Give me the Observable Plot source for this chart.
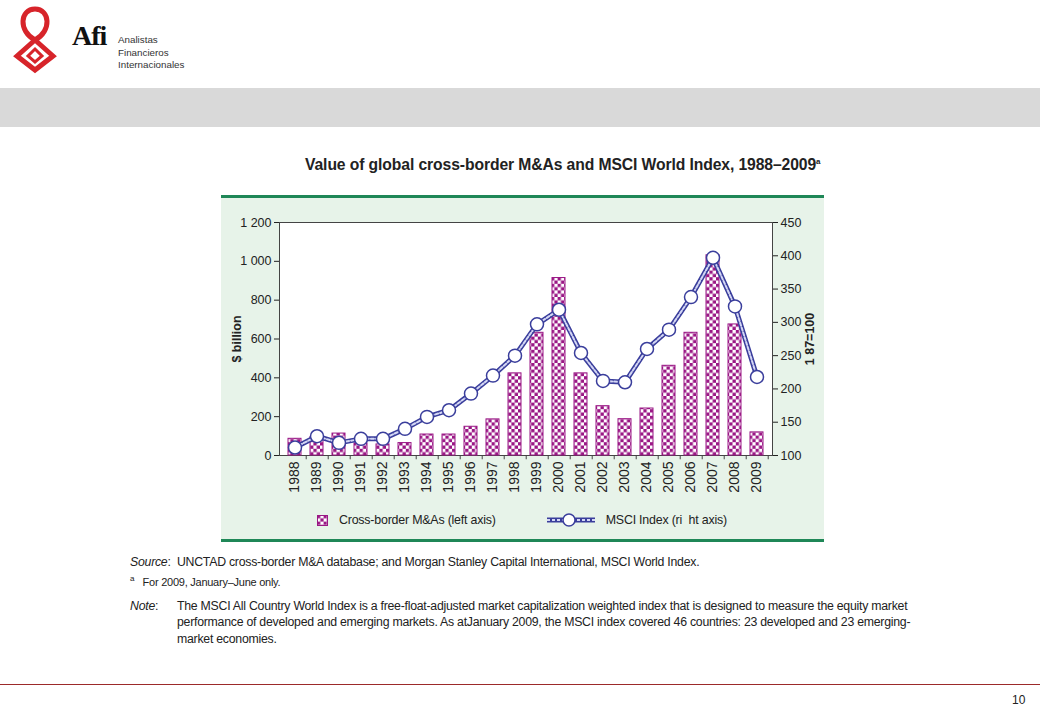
<!DOCTYPE html>
<html><head><meta charset="utf-8">
<script src="https://cdn.jsdelivr.net/npm/d3@7"></script>
<script src="https://cdn.jsdelivr.net/npm/@observablehq/plot@0.6"></script>
<style>
body{margin:0;width:1040px;height:720px;position:relative;background:#fff;font-family:"Liberation Sans",Arial,sans-serif;overflow:hidden;color:#222}
.abs{position:absolute}
#box{position:absolute;left:221px;top:195px;width:603px;height:341px;background:#e7f3e9;border-top:3px solid #1f8757;border-bottom:3px solid #1f8757}
#chart svg g[aria-label="y-axis label"] text{font-weight:bold;font-size:12.5px}
.src{font-size:12.3px;line-height:16.5px;letter-spacing:-0.25px}
</style></head><body>
<script>
// ---- data ----
const years = [1988,1989,1990,1991,1992,1993,1994,1995,1996,1997,1998,1999,2000,2001,2002,2003,2004,2005,2006,2007,2008,2009];
const mna   = [86,95,113,62,57,64,108,108,148,186,423,632,914,423,254,187,242,462,632,1031,675,119];
const msci  = [112,129,119,125,125,140,158,168,193,220,250,297,319,254,212,210,260,289,338,397,324,218];
const leftTicks  = [0,200,400,600,800,1000,1200];
const rightTicks = [100,150,200,250,300,350,400,450];
const title = "Value of global cross-border M&As and MSCI World Index, 1988–2009";
</script>

<!-- logo -->
<svg class="abs" style="left:8px;top:4px" width="60" height="70" viewBox="0 0 60 70">
  <g fill="none" stroke="#d7242a" stroke-width="5" stroke-linejoin="miter">
    <path d="M27,36 C10,27 12,5 27,5 C42,5 44,27 27,36"/>
    <path d="M27,36 L45,52 L27,66 L9,52 Z"/>
    <path d="M27,45 L34,52 L27,58 L20,52 Z" stroke-width="3"/>
  </g>
</svg>
<div class="abs" style="left:72px;top:20px;font-family:'Liberation Serif',serif;font-weight:bold;font-size:28px;color:#111;letter-spacing:-1px">Afi</div>
<div class="abs" style="left:118px;top:34px;font-size:9.8px;line-height:12.5px;color:#333">Analistas<br>Financieros<br>Internacionales</div>
<div class="abs" style="left:0;top:88px;width:1040px;height:39px;background:#d9d9d9"></div>

<div class="abs" id="title" style="left:305px;top:156px;font-weight:bold;font-size:15.7px;letter-spacing:-0.1px;color:#222;white-space:nowrap"></div>

<div id="box">
  <div id="chart" class="abs" style="left:0;top:0"></div>
  <div class="abs" style="left:96px;top:315px;display:flex;align-items:center;font-size:12.4px;letter-spacing:-0.2px;color:#222;white-space:nowrap">
    <svg width="11" height="11"><rect x="0.5" y="0.5" width="10" height="10" fill="url(#chk)" stroke="#9a1785"/></svg>
    <span style="margin-left:11px">Cross-border M&amp;As (left axis)</span>
    <svg style="margin-left:50px" width="50" height="14"><line x1="1" y1="7" x2="49" y2="7" stroke="#3a3e9c" stroke-width="5"/><line x1="1" y1="7" x2="49" y2="7" stroke="#d4d7f5" stroke-width="2" stroke-dasharray="3,2"/><circle cx="23" cy="7" r="6" fill="white" stroke="#3a3e9c" stroke-width="1.5"/></svg>
    <span style="margin-left:10px">MSCI Index (ri&nbsp;&nbsp;ht axis)</span>
  </div>
</div>

<div class="abs src" style="left:130px;top:554px;width:820px">
  <div><i>Source</i>:&nbsp;&nbsp;UNCTAD cross-border M&amp;A database; and Morgan Stanley Capital International, MSCI World Index.</div>
  <div style="font-size:11px;margin-top:0px"><sup style="font-size:8px">a</sup>&nbsp;&nbsp; For 2009, January–June only.</div>
  <div style="display:flex;margin-top:8px"><span style="width:47px;flex:none"><i>Note</i>:</span><div>The MSCI All Country World Index is a free-float-adjusted market capitalization weighted index that is designed to measure the equity market<br>performance of developed and emerging markets. As atJanuary 2009, the MSCI index covered 46 countries: 23 developed and 23 emerging-<br>market economies.</div></div>
</div>

<div class="abs" style="left:0;top:684px;width:1040px;height:1px;background:#9c2a2a"></div>
<div class="abs" style="left:1012px;top:693px;font-size:12px;color:#222">10</div>

<script>
document.getElementById("title").innerHTML = title.replace("&","&amp;") + '<sup style="font-size:8px">a</sup>';
const data = years.map((y,i)=>({year:y, mna:mna[i], msci:msci[i]}));
const toLeft = v => (v-100)*1200/350;
const fmt = d => d >= 1000 ? String(d).replace(/(\d)(\d{3})$/,"$1 $2") : String(d);
const step = 493/22;
const chart = Plot.plot({
  width:603, height:314, marginLeft:58, marginRight:52, marginTop:24, marginBottom:57,
  style:{background:"transparent", fontFamily:"Liberation Sans, Arial, sans-serif", fontSize:"12.5px", color:"#222"},
  x:{type:"band", domain:years, paddingInner:0.42, paddingOuter:0.21, label:null},
  y:{domain:[0,1200], label:null},
  marks:[
    Plot.frame({fill:"white", stroke:"#444"}),
    Plot.barY(data,{x:"year", y:"mna", fill:"url(#chk)", stroke:"#9a1785", strokeWidth:1}),
    Plot.line(data,{x:"year", y:d=>toLeft(d.msci), stroke:"#3a3e9c", strokeWidth:5}),
    Plot.line(data,{x:"year", y:d=>toLeft(d.msci), stroke:"#d4d7f5", strokeWidth:2, strokeDasharray:"3,2"}),
    Plot.dot(data,{x:"year", y:d=>toLeft(d.msci), r:6.5, fill:"white", stroke:"#3a3e9c", strokeWidth:1.5}),
    Plot.ruleX(years,{x:d=>d, y1:0, y2:-22, dx:step/2, stroke:"#444"}),
    Plot.axisX({tickRotate:-90, tickSize:0, tickPadding:6, tickFormat:d=>String(d), label:null, fontSize:14}),
    Plot.axisY(leftTicks,{anchor:"left", tickFormat:fmt, tickSize:5, tickPadding:3, label:"$ billion", labelAnchor:"center", labelOffset:47, labelArrow:"none"}),
    Plot.axisY(rightTicks.map(toLeft),{anchor:"right", tickFormat:v=>String(Math.round(v*350/1200+100)), tickSize:5, tickPadding:3, label:"1 87=100", labelAnchor:"center", labelOffset:41, labelArrow:"none"})
  ]
});
const ns = "http://www.w3.org/2000/svg";
const defs = document.createElementNS(ns,"defs");
defs.innerHTML = '<pattern id="chk" width="6.6" height="6.6" patternUnits="userSpaceOnUse"><rect width="6.6" height="6.6" fill="white"/><rect width="3.3" height="3.3" fill="#9a1785"/><rect x="3.3" y="3.3" width="3.3" height="3.3" fill="#9a1785"/></pattern>';
chart.insertBefore(defs, chart.firstChild);
document.getElementById("chart").appendChild(chart);
</script>
</body></html>
